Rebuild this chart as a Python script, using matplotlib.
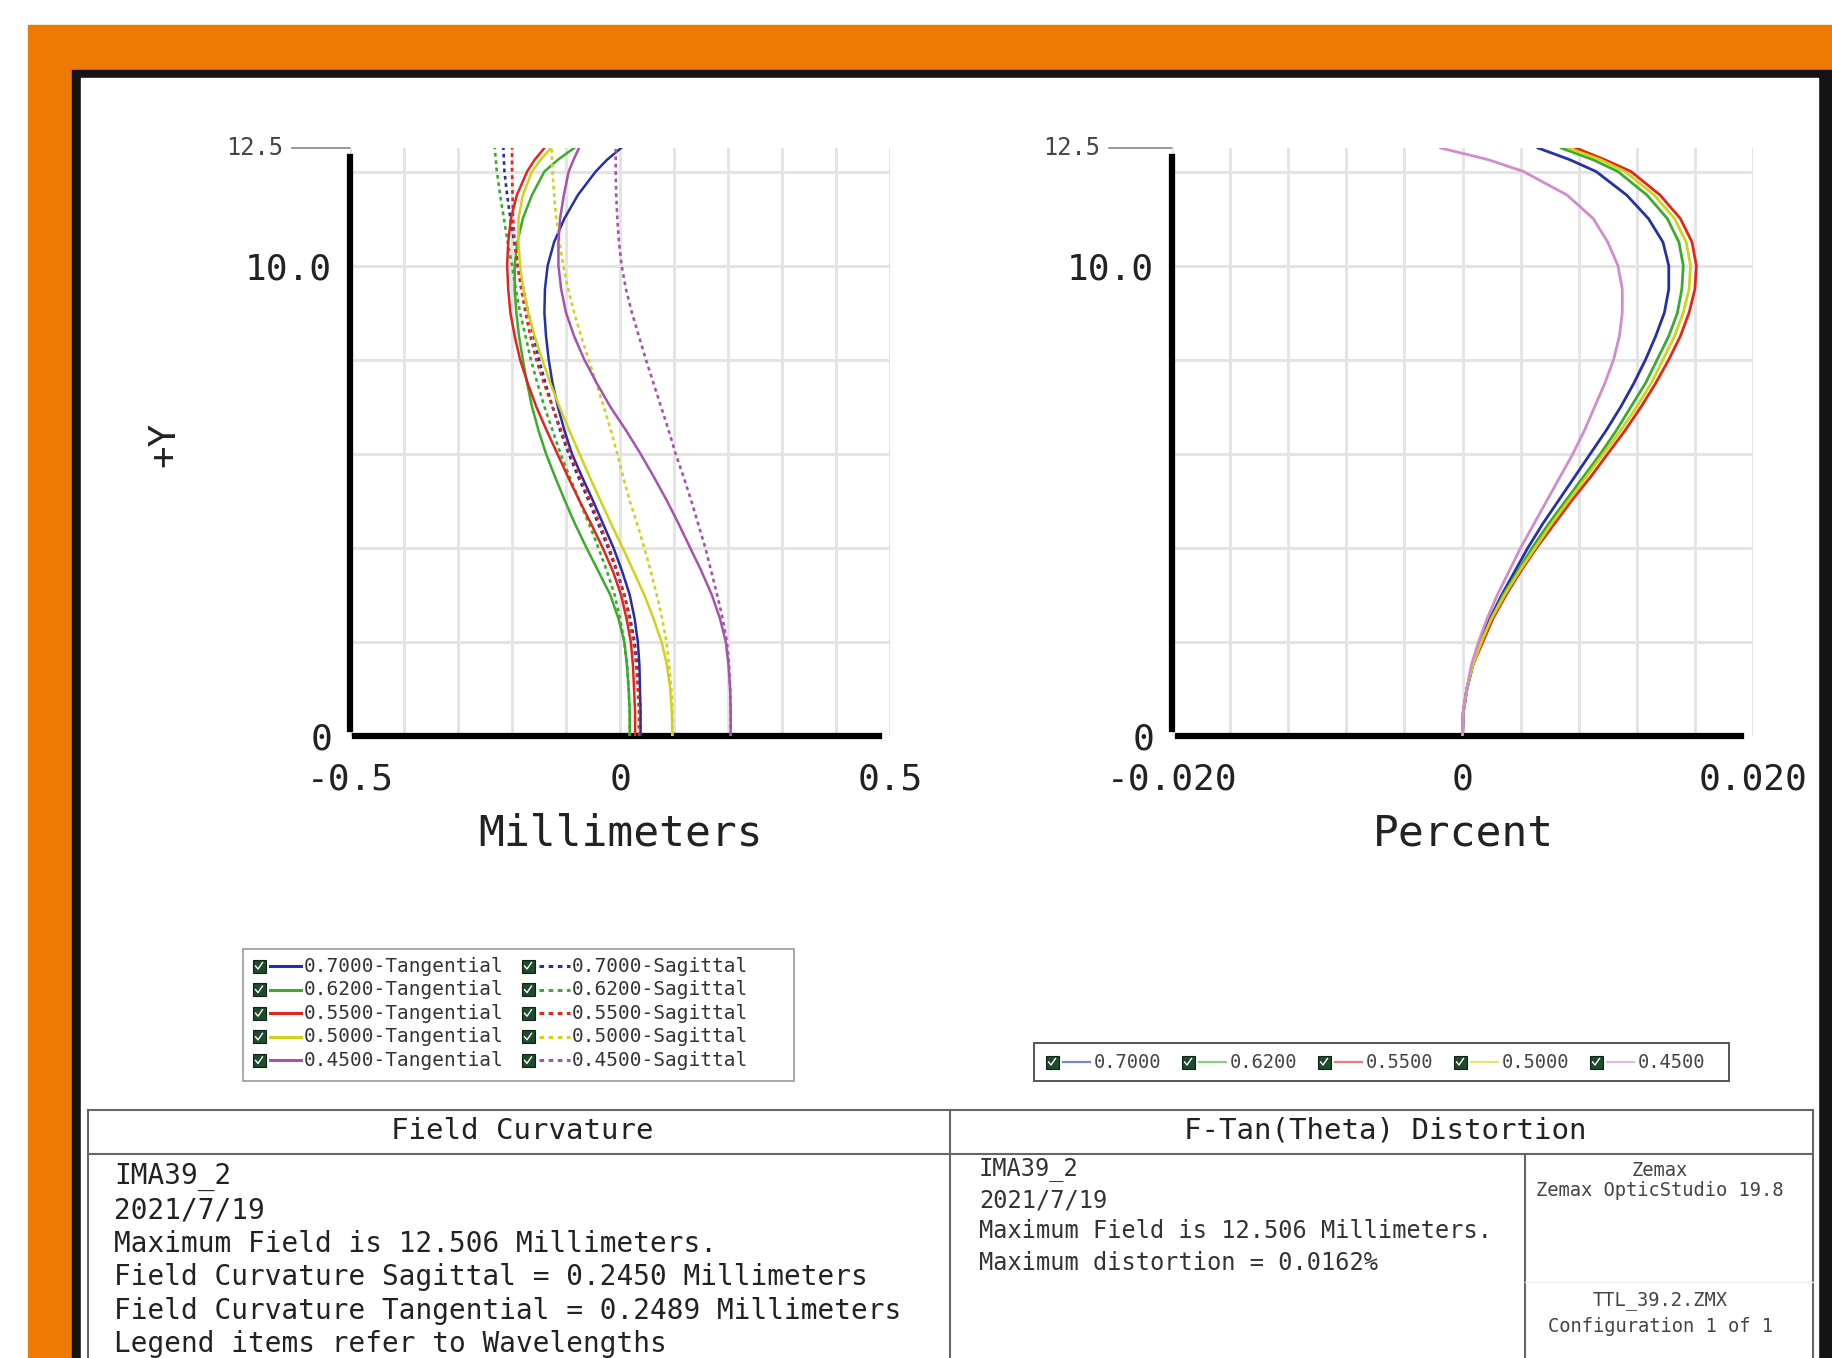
import numpy as np
import matplotlib
matplotlib.use('Agg')
import matplotlib.pyplot as plt
from matplotlib.patches import Rectangle

plt.rcParams['font.family'] = ['DejaVu Sans Mono', 'DejaVu Sans']

W, H = 1832, 1358

# wavelengths (um) and the colours Zemax gives them
wavelengths = ['0.7000', '0.6200', '0.5500', '0.5000', '0.4500']
wl_colors = ['#2430a8', '#3aac2a', '#e0261e', '#d2d21a', '#a852b0']
dist_colors = ['#2430a8', '#3aac2a', '#e0261e', '#d2d21a', '#d08ccc']

# field height (mm) sample points, shared by both plots
field = [0, 0.5, 1, 1.5, 2, 2.5, 3, 3.5, 4, 4.5, 5, 5.5, 6, 6.5, 7, 7.5, 8, 8.5,
         9, 9.5, 10, 10.5, 11, 11.5, 12, 12.25, 12.5]

# field curvature (mm)
tan_700 = [0.038, 0.038, 0.037, 0.036, 0.033, 0.027, 0.018, 0.004, -0.012, -0.031, -0.050, -0.070, -0.089, -0.103,
           -0.115, -0.125, -0.132, -0.137, -0.140, -0.139, -0.134, -0.122, -0.103, -0.078, -0.045, -0.024, 0.002]
tan_620 = [0.018, 0.018, 0.016, 0.013, 0.008, -0.003, -0.018, -0.040, -0.062, -0.083, -0.102, -0.120, -0.137, -0.151,
           -0.163, -0.172, -0.180, -0.187, -0.192, -0.195, -0.195, -0.190, -0.180, -0.163, -0.140, -0.115, -0.085]
tan_550 = [0.028, 0.028, 0.026, 0.024, 0.020, 0.012, 0.002, -0.013, -0.032, -0.053, -0.075, -0.096, -0.116, -0.136,
           -0.155, -0.171, -0.185, -0.195, -0.203, -0.207, -0.209, -0.207, -0.202, -0.191, -0.172, -0.158, -0.140]
tan_500 = [0.097, 0.096, 0.093, 0.087, 0.077, 0.062, 0.045, 0.025, 0.005, -0.016, -0.036, -0.056, -0.075, -0.094,
           -0.112, -0.129, -0.144, -0.158, -0.170, -0.179, -0.185, -0.188, -0.188, -0.180, -0.163, -0.147, -0.128]
tan_450 = [0.205, 0.205, 0.204, 0.201, 0.196, 0.185, 0.170, 0.151, 0.130, 0.109, 0.087, 0.063, 0.038, 0.011,
           -0.018, -0.043, -0.066, -0.085, -0.100, -0.109, -0.114, -0.114, -0.111, -0.104, -0.095, -0.086, -0.076]
sag_700 = [0.038, 0.038, 0.036, 0.032, 0.027, 0.019, 0.008, -0.006, -0.022, -0.040, -0.058, -0.077, -0.095, -0.111,
           -0.125, -0.138, -0.150, -0.160, -0.170, -0.179, -0.188, -0.196, -0.203, -0.209, -0.214, -0.215, -0.216]
sag_620 = [0.018, 0.018, 0.016, 0.013, 0.008, 0.000, -0.010, -0.024, -0.040, -0.057, -0.075, -0.093, -0.110, -0.125,
           -0.140, -0.153, -0.165, -0.175, -0.185, -0.193, -0.200, -0.208, -0.215, -0.222, -0.228, -0.230, -0.232]
sag_550 = [0.035, 0.035, 0.033, 0.030, 0.025, 0.017, 0.008, -0.005, -0.020, -0.037, -0.055, -0.074, -0.092, -0.109,
           -0.125, -0.141, -0.155, -0.166, -0.175, -0.183, -0.190, -0.195, -0.198, -0.199, -0.200, -0.200, -0.200]
sag_500 = [0.097, 0.097, 0.095, 0.091, 0.086, 0.078, 0.068, 0.057, 0.045, 0.032, 0.018, 0.006, -0.005, -0.017,
           -0.030, -0.044, -0.058, -0.072, -0.085, -0.096, -0.105, -0.112, -0.118, -0.122, -0.125, -0.126, -0.127]
sag_450 = [0.205, 0.205, 0.204, 0.202, 0.198, 0.190, 0.180, 0.169, 0.158, 0.145, 0.132, 0.118, 0.103, 0.090,
           0.076, 0.062, 0.048, 0.035, 0.022, 0.011, 0.003, -0.002, -0.005, -0.007, -0.008, -0.008, -0.008]

# f-tan(theta) distortion (%)
dist_700 = [0, 0.00005, 0.0003, 0.0007, 0.0012, 0.0019, 0.0027, 0.0036, 0.0045, 0.0055, 0.0066, 0.0077, 0.0088, 0.0099,
            0.0109, 0.0118, 0.0126, 0.0133, 0.0139, 0.0142, 0.0142, 0.0138, 0.0128, 0.0113, 0.0092, 0.0074, 0.0052]
dist_620 = [0, 0.00005, 0.0003, 0.0007, 0.0013, 0.0020, 0.0028, 0.0038, 0.0048, 0.0059, 0.0071, 0.0083, 0.0095, 0.0106,
            0.0116, 0.0126, 0.0134, 0.0142, 0.0148, 0.0151, 0.0152, 0.0149, 0.0141, 0.0127, 0.0107, 0.0090, 0.0068]
dist_550 = [0, 0.00005, 0.0003, 0.0007, 0.0014, 0.0021, 0.0030, 0.0040, 0.0051, 0.0063, 0.0075, 0.0088, 0.0100, 0.0112,
            0.0123, 0.0133, 0.0142, 0.0150, 0.0156, 0.0160, 0.0161, 0.0158, 0.0150, 0.0136, 0.0116, 0.0098, 0.0078]
dist_500 = [0, 0.00005, 0.0003, 0.0007, 0.0013, 0.0020, 0.0029, 0.0039, 0.0050, 0.0061, 0.0073, 0.0085, 0.0097, 0.0109,
            0.0120, 0.0130, 0.0138, 0.0146, 0.0152, 0.0156, 0.0157, 0.0154, 0.0146, 0.0132, 0.0112, 0.0095, 0.0073]
dist_450 = [0, 0.00005, 0.0003, 0.0006, 0.0011, 0.0017, 0.0024, 0.0032, 0.0040, 0.0049, 0.0058, 0.0067, 0.0076, 0.0084,
            0.0091, 0.0098, 0.0104, 0.0108, 0.0110, 0.0110, 0.0107, 0.0100, 0.0090, 0.0072, 0.0042, 0.0018, -0.0015]

tan_curves = [tan_700, tan_620, tan_550, tan_500, tan_450]
sag_curves = [sag_700, sag_620, sag_550, sag_500, sag_450]
dist_curves = [dist_700, dist_620, dist_550, dist_500, dist_450]

fig = plt.figure(figsize=(W / 100, H / 100), dpi=100)
fig.patch.set_facecolor('white')

# pixel-space background layer (y grows downwards)
bg = fig.add_axes([0, 0, 1, 1])
bg.set_xlim(0, W)
bg.set_ylim(H, 0)
bg.axis('off')
bg.add_patch(Rectangle((28, 25), W - 28, H, color='#ec7a04'))
bg.add_patch(Rectangle((72, 70), W - 72, H, color='#141414'))
bg.add_patch(Rectangle((81, 78), 1818 - 81, H, color='white'))


def px_axes(x0, x1, y0, y1):
    return fig.add_axes([x0 / W, 1 - y1 / H, (x1 - x0) / W, (y1 - y0) / H])


def style(ax, xlim, xticks, xlabels, xminor):
    ax.set_facecolor('none')
    ax.set_xlim(xlim)
    ax.set_ylim(0, 12.5)
    ax.set_xticks(xticks)
    ax.set_xticklabels(xlabels)
    ax.set_xticks(xminor, minor=True)
    ax.set_yticks([0, 10])
    ax.set_yticklabels(['0', '10.0'])
    ax.set_yticks(np.arange(2, 13, 2), minor=True)
    ax.xaxis.remove_overlapping_locs = False
    ax.yaxis.remove_overlapping_locs = False
    ax.grid(which='minor', color='#e4e4e4', lw=2.2)
    ax.tick_params(which='both', length=0, labelsize=26, labelcolor='#222')
    ax.tick_params(axis='x', pad=19)
    ax.tick_params(axis='y', pad=13)
    ax.spines['top'].set_visible(False)
    ax.spines['right'].set_visible(False)
    ax.spines['left'].set_linewidth(4.5)
    ax.spines['left'].set_bounds(0.15, 12.3)
    ax.spines['bottom'].set_linewidth(4.5)
    span = xlim[1] - xlim[0]
    ax.spines['bottom'].set_bounds(xlim[0] + 0.01 * span, xlim[1] - 0.02 * span)
    ax.axvline(0, color='black', lw=1.4, zorder=1.5)


# field curvature
ax1 = px_axes(350, 890, 148, 736)
style(ax1, (-0.5, 0.5), [-0.5, 0, 0.5], ['-0.5', '0', '0.5'], np.arange(-0.5, 0.51, 0.1))
for i in range(len(wavelengths)):
    ax1.plot(tan_curves[i], field, color=wl_colors[i], lw=1.8, zorder=3)
    ax1.plot(sag_curves[i], field, color=wl_colors[i], lw=1.9, ls=(0, (1.4, 1.4)), zorder=3)

# distortion
ax2 = px_axes(1172, 1753, 148, 736)
style(ax2, (-0.02, 0.02), [-0.02, 0, 0.02], ['-0.020', '0', '0.020'], np.arange(-0.02, 0.0201, 0.004))
for i in range(len(wavelengths)):
    ax2.plot(dist_curves[i], field, color=dist_colors[i], lw=2.0, zorder=3)

# small top tick labels with their leader lines
for lx, ax_x in [(283, 350), (1100, 1172)]:
    bg.text(lx, 148, '12.5', ha='right', va='center', fontsize=17, color='#444')
    bg.plot([lx + 9, ax_x], [148, 148], color='#888', lw=1.2)

bg.text(164, 444, '+Y', rotation=90, ha='center', va='center', fontsize=27, color='#222')
bg.text(621, 833, 'Millimeters', ha='center', va='center', fontsize=31, color='#222')
bg.text(1463, 833, 'Percent', ha='center', va='center', fontsize=31, color='#222')


def checkbox(x, y, s=13):
    bg.add_patch(Rectangle((x - s / 2, y - s / 2), s, s, facecolor='#1f4a2c', edgecolor='#0d2414', lw=0.8))
    bg.plot([x - 3.5, x - 1, x + 3.5], [y, y + 3, y - 3.5], color='white', lw=1.0)


# field curvature legend
bg.add_patch(Rectangle((243, 949), 551, 132, facecolor='white', edgecolor='#9a9a9a', lw=1.2))
for i, wl in enumerate(wavelengths):
    y = 966 + i * 23.6
    checkbox(259, y)
    bg.plot([270, 301], [y, y], color=wl_colors[i], lw=2.2)
    bg.text(304, y, wl + '-Tangential', ha='left', va='center', fontsize=14, color='#333')
    checkbox(528, y)
    bg.plot([539, 570], [y, y], color=wl_colors[i], lw=2.2, ls=(0, (1.5, 1.5)))
    bg.text(572, y, wl + '-Sagittal', ha='left', va='center', fontsize=14, color='#333')

# distortion legend
bg.add_patch(Rectangle((1034, 1043), 695, 38, facecolor='white', edgecolor='#555', lw=1.4))
for i, wl in enumerate(wavelengths):
    x = 1052 + i * 136
    checkbox(x, 1062)
    bg.plot([x + 11, x + 38], [1062, 1062], color=dist_colors[i], lw=1.6, alpha=0.6)
    bg.text(x + 42, 1062, wl, ha='left', va='center', fontsize=13.5, color='#444')

# report panel
line_kw = dict(color='#666', lw=1.5)
bg.plot([88, 1813], [1110, 1110], **line_kw)
bg.plot([88, 88], [1110, H], **line_kw)
bg.plot([1813, 1813], [1110, H], **line_kw)
bg.plot([950, 950], [1110, H], **line_kw)
bg.plot([88, 1813], [1154, 1154], **line_kw)
bg.plot([1525, 1525], [1154, H], **line_kw)
bg.plot([1525, 1813], [1282, 1282], color='#ececec', lw=1.0)

bg.text(522, 1131, 'Field Curvature', ha='center', va='center', fontsize=21, color='#222')
bg.text(1385, 1131, 'F-Tan(Theta) Distortion', ha='center', va='center', fontsize=21, color='#222')

left_lines = ['IMA39_2', '2021/7/19', 'Maximum Field is 12.506 Millimeters.',
              'Field Curvature Sagittal = 0.2450 Millimeters',
              'Field Curvature Tangential = 0.2489 Millimeters',
              'Legend items refer to Wavelengths']
for i, t in enumerate(left_lines):
    bg.text(114, 1177 + i * 33.4, t, ha='left', va='center', fontsize=20, color='#222')

right_lines = ['IMA39_2', '2021/7/19', 'Maximum Field is 12.506 Millimeters.',
               'Maximum distortion = 0.0162%']
for i, t in enumerate(right_lines):
    bg.text(979, 1169 + i * 31.2, t, ha='left', va='center', fontsize=17, color='#333')

for t, y in [('Zemax', 1171), ('Zemax OpticStudio 19.8', 1191),
             ('TTL_39.2.ZMX', 1300), ('Configuration 1 of 1', 1327)]:
    bg.text(1660, y, t, ha='center', va='center', fontsize=13.5, color='#444')

fig.savefig('out.png', dpi=100)
